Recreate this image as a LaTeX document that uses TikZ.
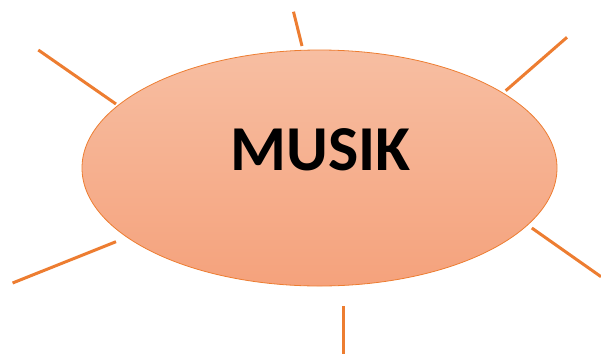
\documentclass[tikz,border=0pt]{standalone}
\usepackage{fontspec}
\setmainfont{Carlito}
\usetikzlibrary{shapes.geometric}
\definecolor{orangeline}{HTML}{ED7D31}
\definecolor{filltop}{HTML}{F7BEA2}
\definecolor{fillbot}{HTML}{F5A27C}
\tikzset{
  ray/.style={draw=orangeline, line width=3pt},
  blob/.style={ellipse, draw=orangeline, line width=0.8pt, top color=filltop, bottom color=fillbot,
    minimum width=475pt, minimum height=236pt, inner sep=0pt},
}
\begin{document}
\begin{tikzpicture}[x=1pt,y=-1pt]
\useasboundingbox (0,0) rectangle (601,354);
\node[blob] (e) at (319.5,168) {};
\node[font=\fontsize{64}{70}\selectfont\bfseries] (t) at (320.5,150) {MUSIK};
\coordinate (a1) at (293.5,11.7); \coordinate (a2) at (302,46);
\coordinate (b1) at (38.3,50);    \coordinate (b2) at (116,104);
\coordinate (c1) at (505.7,90.7); \coordinate (c2) at (567,37.3);
\coordinate (d1) at (12.6,283);   \coordinate (d2) at (116,241.7);
\coordinate (f1) at (531.8,228);  \coordinate (f2) at (601,276.7);
\coordinate (g1) at (343.7,306);  \coordinate (g2) at (343.7,354);
\draw[ray] (a1) -- (a2);
\draw[ray] (b1) -- (b2);
\draw[ray] (c1) -- (c2);
\draw[ray] (d1) -- (d2);
\draw[ray] (f1) -- (f2);
\draw[ray] (g1) -- (g2);
\end{tikzpicture}
\end{document}
